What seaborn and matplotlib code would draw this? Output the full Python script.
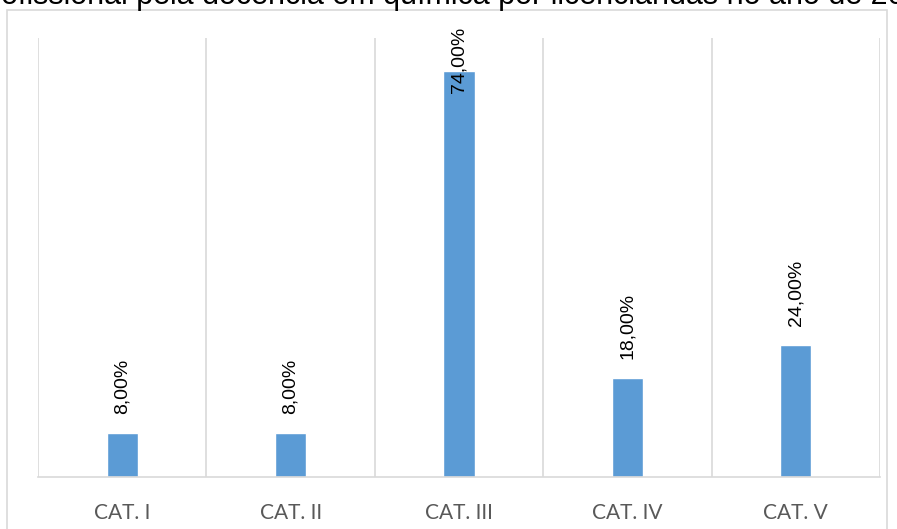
import matplotlib.pyplot as plt
import seaborn as sns
from matplotlib.patches import Rectangle

# data
categories = ["CAT. I", "CAT. II", "CAT. III", "CAT. IV", "CAT. V"]
values = [0.08, 0.08, 0.74, 0.18, 0.24]
labels = ["8,00%", "8,00%", "74,00%", "18,00%", "24,00%"]
title_text = "profissional pela docência em química por licenciandas no ano de 20"

sns.set_style("white")
plt.rcParams["font.family"] = ["Liberation Sans", "DejaVu Sans"]

fig = plt.figure(figsize=(8.97, 5.29), dpi=100)
ax = fig.add_axes([38 / 897, 52 / 529, 842 / 897, 439 / 529])

sns.barplot(x=categories, y=values, color="#5B9BD5", width=0.185,
            saturation=1, ax=ax)

ax.set_ylim(0, 0.8)
ax.set_xlim(-0.5, len(categories) - 0.5)
ax.set_yticks([])
ax.set_xlabel("")
ax.set_ylabel("")

# vertical separators between categories
for b in range(len(categories) + 1):
    ax.axvline(b - 0.5, color="#D9D9D9", lw=1.2, zorder=0)
for s in ["top", "left", "right"]:
    ax.spines[s].set_visible(False)
ax.spines["bottom"].set_color("#D9D9D9")
ax.spines["bottom"].set_linewidth(1.2)

ax.tick_params(axis="x", length=0, pad=19, labelsize=15, labelcolor="#595959")
for t in ax.get_xticklabels():
    t.set_family(["Lato", "DejaVu Sans"])

# data labels, rotated, kept inside the chart area
for i, (v, lab) in enumerate(zip(values, labels)):
    y = min(v + 0.035, 0.70)
    ax.text(i, y, lab, rotation=90, ha="center", va="bottom",
            fontsize=14, color="#000000", clip_on=False)

# outer chart frame
fig.patches.append(Rectangle((7 / 897, -0.1), 880 / 897, 1.1 - 10 / 529,
                             transform=fig.transFigure, fill=False,
                             edgecolor="#D9D9D9", lw=1.2))

# clipped caption line at the very top
fig.text(905 / 897, 1 - 4 / 529, title_text, fontsize=22, ha="right",
         va="baseline", color="#000000")

fig.savefig("out.png", dpi=100)
